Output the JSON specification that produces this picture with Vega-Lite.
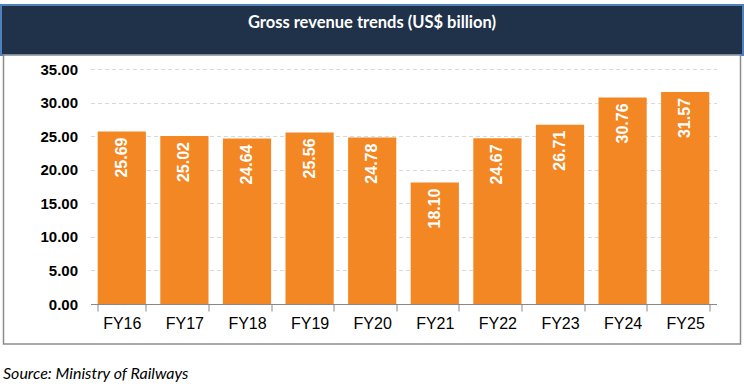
{
  "$schema": "https://vega.github.io/schema/vega-lite/v6.json",
  "padding": {"left": 0, "top": 4, "right": 0, "bottom": 0},
  "background": "white",
  "config": {"view": {"stroke": null}},
  "title": {
    "text": "Source: Ministry of Railways",
    "orient": "bottom",
    "anchor": "start",
    "font": "Lato",
    "fontSize": 16,
    "fontStyle": "italic",
    "fontWeight": "normal",
    "color": "black",
    "offset": 21,
    "dx": 3
  },
  "bounds": "flush",
  "center": true,
  "spacing": 0,
  "vconcat": [
    {
      "width": 742,
      "height": 50,
      "view": {"fill": "#203249", "stroke": "#4F81BD", "strokeWidth": 2},
      "data": {"values": [{"t": "Gross revenue trends (US$ billion)"}]},
      "mark": {"type": "text", "font": "Lato", "fontSize": 16.5, "fontWeight": "bold", "color": "white", "dy": -7},
      "encoding": {"text": {"field": "t"}}
    },
    {
      "width": 737,
      "height": 289,
      "view": {"stroke": "#8C8C8C", "strokeWidth": 1.5, "fill": "white"},
      "data": {
        "values": [
          {"year": "FY16", "value": 25.69},
          {"year": "FY17", "value": 25.02},
          {"year": "FY18", "value": 24.64},
          {"year": "FY19", "value": 25.56},
          {"year": "FY20", "value": 24.78},
          {"year": "FY21", "value": 18.10},
          {"year": "FY22", "value": 24.67},
          {"year": "FY23", "value": 26.71},
          {"year": "FY24", "value": 30.76},
          {"year": "FY25", "value": 31.57}
        ]
      },
      "encoding": {
        "x": {
          "field": "year",
          "type": "nominal",
          "sort": null,
          "scale": {"paddingInner": 0.23, "paddingOuter": 0.115, "range": [87, 713]},
          "axis": {
            "title": null,
            "grid": false,
            "offset": -40,
            "labelAngle": 0,
            "tickBand": "extent",
            "tickColor": "#888888",
            "tickSize": 7,
            "domainColor": "#888888",
            "labelFont": "Liberation Sans",
            "labelFontSize": 16,
            "labelColor": "black",
            "labelPadding": 4
          }
        },
        "y": {
          "field": "value",
          "type": "quantitative",
          "scale": {"domain": [0, 35], "nice": false, "range": [249, 14]},
          "axis": {
            "title": null,
            "offset": -87,
            "values": [0, 5, 10, 15, 20, 25, 30, 35],
            "format": ".2f",
            "domain": false,
            "ticks": false,
            "grid": true,
            "gridDash": [4, 3],
            "gridColor": "#D9D9D9",
            "labelFont": "Liberation Sans",
            "labelFontSize": 15,
            "labelFontWeight": "bold",
            "labelColor": "black",
            "labelPadding": 13
          }
        }
      },
      "layer": [
        {"mark": {"type": "bar", "color": "#F38724"}},
        {
          "mark": {
            "type": "text",
            "angle": -90,
            "align": "right",
            "baseline": "middle",
            "dx": -6,
            "font": "Liberation Sans",
            "fontSize": 16,
            "fontWeight": "bold",
            "color": "white"
          },
          "encoding": {"text": {"field": "value", "type": "quantitative", "format": ".2f"}}
        }
      ]
    }
  ]
}
